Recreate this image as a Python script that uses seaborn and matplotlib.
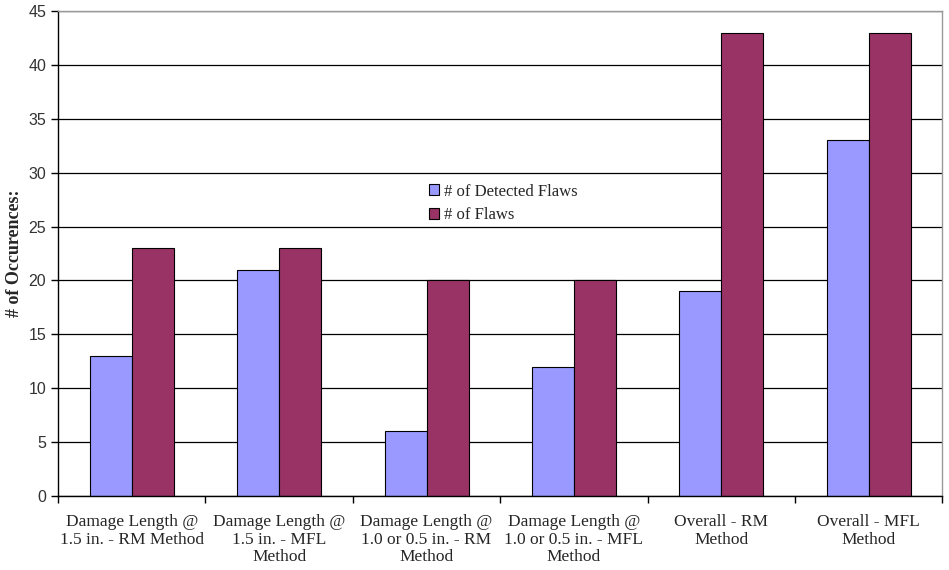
import pandas as pd
import seaborn as sns
from matplotlib import pyplot as plt

categories = [
    "Damage Length @\n1.5 in. - RM Method",
    "Damage Length @\n1.5 in. - MFL\nMethod",
    "Damage Length @\n1.0 or 0.5 in. - RM\nMethod",
    "Damage Length @\n1.0 or 0.5 in. - MFL\nMethod",
    "Overall - RM\nMethod",
    "Overall - MFL\nMethod",
]
detected = [13, 21, 6, 12, 19, 33]
flaws = [23, 23, 20, 20, 43, 43]
series_names = ["# of Detected Flaws", "# of Flaws"]

frame = pd.DataFrame({
    "category": categories * 2,
    "series": [series_names[0]] * len(categories) + [series_names[1]] * len(categories),
    "value": detected + flaws,
})

sns.set_style("white")

fig = plt.figure(figsize=(9.49, 5.70), dpi=100)
ax = fig.add_axes([0.0611, 0.1298, 0.932, 0.851])

ax = sns.barplot(data=frame, x="category", y="value", hue="series",
                 palette=["#9999FF", "#993366"], width=0.57,
                 edgecolor="black", linewidth=0.8, saturation=1, ax=ax)

ax.set_ylim(0, 45)
ax.set_xlim(-0.5, len(categories) - 0.5)
ax.set_yticks(range(0, 46, 5))
ax.set_axisbelow(True)
ax.yaxis.grid(True, color="black", linewidth=0.9)
ax.xaxis.grid(False)

for side in ["left", "bottom"]:
    ax.spines[side].set_color("black")
    ax.spines[side].set_linewidth(1.0)
for side in ["top", "right"]:
    ax.spines[side].set_color("#999999")
    ax.spines[side].set_linewidth(1.0)

# category boundary ticks like the original spreadsheet chart
ax.set_xticks([i + 0.5 for i in range(-1, len(categories))], minor=True)
ax.set_xticks(range(len(categories)))
ax.set_xticklabels(categories, family="Liberation Serif", fontsize=12.5,
                   linespacing=1.12)
ax.tick_params(axis="x", which="major", length=0, pad=13)
ax.tick_params(axis="x", which="minor", length=5, width=1, color="black",
               direction="out", bottom=True)
ax.tick_params(axis="y", length=5, width=1, color="black", direction="out",
               left=True, labelsize=11.5)
for lab in ax.get_yticklabels():
    lab.set_family("Liberation Sans")
    lab.set_color("#333333")

ax.set_xlabel("")
ax.set_ylabel("# of Occurences:", family="Liberation Serif", fontweight="bold",
              fontsize=13)

leg = ax.legend(loc="upper left", bbox_to_anchor=(0.402, 0.675), frameon=False,
                prop={"family": "Liberation Serif", "size": 12},
                handlelength=0.6, handleheight=0.6, handletextpad=0.3,
                labelspacing=0.45)

plt.savefig("out.png", dpi=100)
